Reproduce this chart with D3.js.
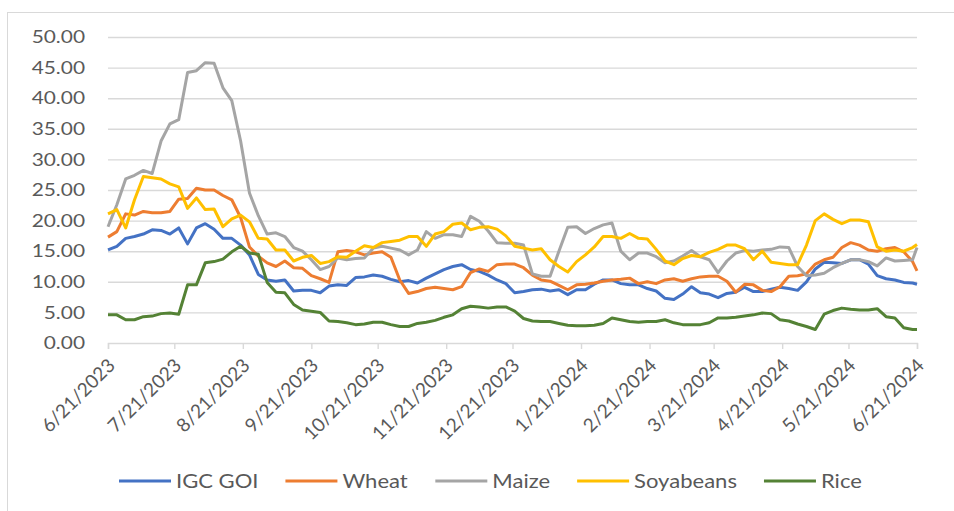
<!DOCTYPE html>
<html lang="en">
<head>
    <meta charset="UTF-8">
    <title>IGC GOI and sub-indices</title>
    <style>
        body { margin: 0; background: #fff; }
        svg text { font-family: Lato, "Open Sans", sans-serif; fill: #595959; }
    </style>
</head>
<body>
    <div class="canvas"></div>

    <script src="https://cdnjs.cloudflare.com/ajax/libs/d3/7.8.5/d3.min.js"></script>

    <script>
        const dates = [
            "2023-06-21","2023-06-25","2023-06-29","2023-07-03","2023-07-07","2023-07-11","2023-07-15","2023-07-19","2023-07-23","2023-07-27",
            "2023-07-31","2023-08-04","2023-08-08","2023-08-12","2023-08-16","2023-08-20","2023-08-24","2023-08-28","2023-09-01","2023-09-05",
            "2023-09-09","2023-09-13","2023-09-17","2023-09-21","2023-09-25","2023-09-29","2023-10-03","2023-10-07","2023-10-11","2023-10-15",
            "2023-10-19","2023-10-23","2023-10-27","2023-10-31","2023-11-04","2023-11-08","2023-11-12","2023-11-16","2023-11-20","2023-11-24",
            "2023-11-28","2023-12-02","2023-12-06","2023-12-10","2023-12-14","2023-12-18","2023-12-22","2023-12-26","2023-12-30","2024-01-03",
            "2024-01-07","2024-01-11","2024-01-15","2024-01-19","2024-01-23","2024-01-27","2024-01-31","2024-02-04","2024-02-08","2024-02-12",
            "2024-02-16","2024-02-20","2024-02-24","2024-02-28","2024-03-03","2024-03-07","2024-03-11","2024-03-15","2024-03-19","2024-03-23",
            "2024-03-27","2024-03-31","2024-04-04","2024-04-08","2024-04-12","2024-04-16","2024-04-20","2024-04-24","2024-04-28","2024-05-02",
            "2024-05-06","2024-05-10","2024-05-14","2024-05-18","2024-05-22","2024-05-26","2024-05-30","2024-06-03","2024-06-07","2024-06-11",
            "2024-06-15","2024-06-19","2024-06-21"
        ];

        const igcGoi = [
            15.2,15.8,17.1,17.4,17.8,18.5,18.4,17.8,18.8,16.2,
            18.8,19.5,18.6,17.1,17.1,16.0,14.4,11.2,10.3,10.1,
            10.3,8.5,8.6,8.6,8.2,9.3,9.5,9.4,10.7,10.8,
            11.1,10.9,10.4,10.0,10.2,9.8,10.6,11.3,12.0,12.5,
            12.8,12.0,11.7,11.1,10.3,9.7,8.2,8.4,8.7,8.8,
            8.5,8.7,7.9,8.7,8.7,9.6,10.3,10.3,9.7,9.5,
            9.5,8.9,8.5,7.3,7.1,8.0,9.2,8.2,8.0,7.4,
            8.1,8.3,9.1,8.4,8.4,8.8,9.1,8.9,8.6,10.0,
            12.1,13.2,13.1,13.0,13.6,13.6,12.9,11.0,10.5,10.3,
            9.9,9.8,9.6
        ];

        const wheat = [
            17.3,18.2,21.1,20.9,21.5,21.3,21.3,21.5,23.5,23.6,
            25.3,25.0,25.0,24.1,23.4,20.5,15.7,14.2,13.1,12.5,
            13.4,12.3,12.2,11.0,10.5,9.9,14.9,15.1,14.9,14.4,
            14.7,14.9,14.0,10.3,8.1,8.4,8.9,9.1,8.9,8.7,
            9.2,11.5,12.1,11.7,12.8,12.9,12.9,12.3,11.1,10.3,
            10.1,9.4,8.7,9.5,9.6,9.8,10.1,10.3,10.4,10.6,
            9.7,10.0,9.7,10.3,10.5,10.1,10.5,10.8,10.9,10.9,
            10.1,8.3,9.6,9.5,8.6,8.4,9.2,10.9,11.0,11.3,
            12.9,13.6,14.0,15.6,16.4,16.0,15.2,15.0,15.4,15.6,
            14.9,13.3,11.8
        ];

        const maize = [
            19.0,22.6,26.8,27.4,28.2,27.7,33.0,35.8,36.5,44.2,
            44.5,45.8,45.7,41.7,39.6,33.0,24.5,20.8,17.8,18.0,
            17.4,15.6,15.0,13.6,12.0,12.5,13.9,13.6,13.8,13.9,
            15.5,15.8,15.5,15.2,14.4,15.2,18.2,17.1,17.7,17.7,
            17.4,20.7,19.9,18.3,16.4,16.3,16.3,16.0,11.3,10.9,
            10.9,15.0,18.9,19.0,17.9,18.7,19.3,19.6,15.0,13.6,
            14.7,14.7,14.1,13.1,13.4,14.2,15.1,14.1,13.6,11.5,
            13.4,14.7,15.1,15.0,15.2,15.3,15.7,15.6,12.5,11.0,
            11.1,11.4,12.3,13.0,13.6,13.6,13.3,12.6,13.9,13.4,
            13.5,13.6,15.6
        ];

        const soyabeans = [
            21.1,21.8,18.8,23.4,27.2,27.0,26.8,26.0,25.5,22.0,
            23.7,21.8,21.9,19.0,20.3,20.9,19.8,17.1,17.0,15.2,
            15.2,13.4,14.0,14.3,13.0,13.3,14.1,14.0,15.0,15.9,
            15.6,16.4,16.6,16.8,17.4,17.4,15.8,17.8,18.2,19.4,
            19.6,18.5,18.9,19.0,18.6,17.5,15.8,15.5,15.2,15.4,
            13.6,12.5,11.6,13.3,14.4,15.7,17.4,17.4,17.1,17.9,
            17.1,17.0,15.3,13.4,12.8,13.8,14.3,14.1,14.8,15.3,
            16.0,16.0,15.4,13.6,15.0,13.2,13.0,12.8,12.8,16.0,
            20.0,21.1,20.2,19.5,20.1,20.1,19.8,15.7,15.0,15.2,
            15.0,15.6,16.1
        ];

        const rice = [
            4.6,4.6,3.8,3.8,4.3,4.4,4.8,4.9,4.7,9.5,
            9.5,13.1,13.3,13.7,14.9,15.8,14.7,14.5,9.9,8.3,
            8.2,6.3,5.4,5.2,5.0,3.6,3.5,3.3,3.0,3.1,
            3.4,3.4,3.0,2.7,2.7,3.2,3.4,3.7,4.2,4.6,
            5.6,6.0,5.9,5.7,5.9,5.9,5.2,4.0,3.6,3.5,
            3.5,3.2,2.9,2.8,2.8,2.9,3.2,4.1,3.8,3.5,
            3.4,3.5,3.5,3.8,3.3,3.0,3.0,3.0,3.3,4.1,
            4.1,4.2,4.4,4.6,4.9,4.8,3.8,3.6,3.1,2.7,
            2.2,4.7,5.3,5.7,5.5,5.4,5.4,5.6,4.3,4.1,
            2.5,2.2,2.2
        ];

        const seriesNames = ["IGC GOI", "Wheat", "Maize", "Soyabeans", "Rice"];
        const seriesColors = ["#4472C4", "#ED7D31", "#A5A5A5", "#FFC000", "#548235"];
        const xTickLabels = [
            "6/21/2023","7/21/2023","8/21/2023","9/21/2023","10/21/2023","11/21/2023","12/21/2023",
            "1/21/2024","2/21/2024","3/21/2024","4/21/2024","5/21/2024","6/21/2024"
        ];
        const yTicks = [0, 5, 10, 15, 20, 25, 30, 35, 40, 45, 50];

        const width = 954, height = 511;
        const plot = { left: 108, right: 917, top: 37, bottom: 343 };
        const stretch = 1.16;   // the source picture is widened, text included

        const parseIso = d3.timeParse("%Y-%m-%d");
        const parseLabel = d3.timeParse("%m/%d/%Y");
        const allValues = [igcGoi, wheat, maize, soyabeans, rice];

        const series = seriesNames.map((name, i) => ({
            name,
            color: seriesColors[i],
            values: dates.map((d, j) => ({ date: parseIso(d), v: allValues[i][j] }))
        }));

        const svg = d3.select(".canvas").append("svg")
            .attr("width", width)
            .attr("height", height);

        // chart border (only top and left edges fall inside the picture)
        svg.append("rect")
            .attr("x", 7.5).attr("y", 12.5)
            .attr("width", 1000).attr("height", 600)
            .attr("fill", "none")
            .attr("stroke", "#d9d9d9");

        const tickDates = xTickLabels.map(parseLabel);

        const x = d3.scaleTime()
            .domain([tickDates[0], tickDates[tickDates.length - 1]])
            .range([plot.left, plot.right]);

        const y = d3.scaleLinear()
            .domain([0, 50])
            .range([plot.bottom, plot.top]);

        // y axis with gridlines
        const yAxis = svg.append("g")
            .attr("transform", `translate(${plot.left},0)`)
            .call(d3.axisLeft(y)
                .tickValues(yTicks)
                .tickFormat(d3.format(".2f"))
                .tickSize(-(plot.right - plot.left)));
        yAxis.select(".domain").remove();
        yAxis.selectAll(".tick line")
            .attr("stroke", "#d9d9d9")
            .attr("stroke-width", 1.4);
        yAxis.selectAll(".tick line").filter(d => d === 0).remove();
        yAxis.selectAll("text")
            .attr("font-size", 18)
            .attr("x", -23 / stretch)
            .attr("transform", `scale(${stretch},1)`);

        // x axis
        const xAxis = svg.append("g")
            .attr("transform", `translate(0,${plot.bottom})`)
            .call(d3.axisBottom(x)
                .tickValues(tickDates)
                .tickFormat((d, i) => xTickLabels[i])
                .tickSizeOuter(0)
                .tickSize(6));
        xAxis.select(".domain").attr("stroke", "#d9d9d9").attr("stroke-width", 1.4);
        xAxis.selectAll(".tick line").attr("stroke", "#d9d9d9").attr("stroke-width", 1.4);
        xAxis.selectAll("text")
            .attr("font-size", 19)
            .attr("text-anchor", "end")
            .attr("x", 0).attr("y", 0).attr("dy", "0.35em")
            .attr("transform", "translate(3,19) rotate(-45)");

        // lines
        const line = d3.line()
            .x(d => x(d.date))
            .y(d => y(d.v));

        svg.append("g")
            .selectAll("path")
            .data(series)
            .join("path")
                .attr("fill", "none")
                .attr("stroke", d => d.color)
                .attr("stroke-width", 3)
                .attr("stroke-linejoin", "round")
                .attr("d", d => line(d.values));

        // legend
        const legendY = 481, swatch = 52, gapText = 5;
        const legendStart = 119, legendEnd = 862;
        const items = svg.append("g")
            .selectAll("g")
            .data(series)
            .join("g");
        items.append("line")
            .attr("x1", 0).attr("x2", swatch)
            .attr("y1", 0).attr("y2", 0)
            .attr("stroke", d => d.color)
            .attr("stroke-width", 3);
        items.append("text")
            .attr("x", (swatch + gapText) / stretch)
            .attr("dy", "0.35em")
            .attr("font-size", 19)
            .attr("transform", `scale(${stretch},1)`)
            .text(d => d.name);

        const widths = items.nodes().map(n => n.getBoundingClientRect().width);
        const gapItem = (legendEnd - legendStart - d3.sum(widths)) / (widths.length - 1);
        let cursor = legendStart;
        items.attr("transform", (d, i) => {
            const t = `translate(${cursor},${legendY})`;
            cursor += widths[i] + gapItem;
            return t;
        });
    </script>
</body>
</html>
